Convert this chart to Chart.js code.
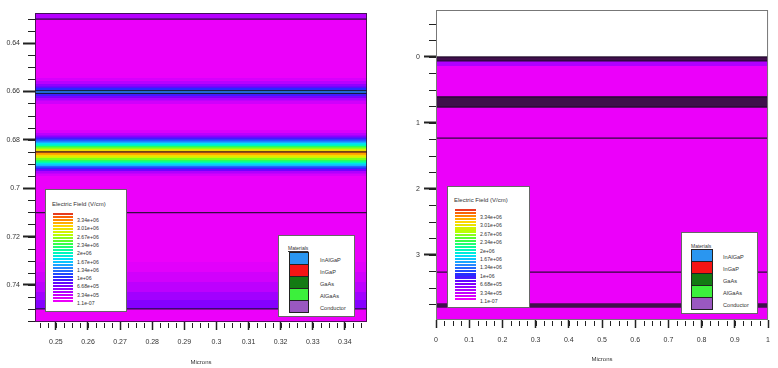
<!DOCTYPE html>
<html>
<head>
<meta charset="utf-8">
<script src="https://cdn.jsdelivr.net/npm/chart.js@4.4.1/dist/chart.umd.min.js"></script>
<style>
body{margin:0;background:#fff;width:778px;height:368px;overflow:hidden;position:relative;font-family:"Liberation Sans",Arial,sans-serif;}
canvas{position:absolute;top:0}
#left{left:0}
#right{left:389px}
.box{position:absolute;background:#fff;border:1px solid #666;box-sizing:border-box;color:#333}
.box div{position:absolute;white-space:nowrap}
.ttl{font-size:6px;line-height:6px}
.lab{font-size:5.2px;line-height:6px}
.mlab{font-size:5.6px;line-height:6px}
.mttl{font-size:5px;line-height:5px;text-decoration:underline}
.sw{box-sizing:border-box;border:1px solid #222}
</style>
</head>
<body>
<canvas id="left" width="389" height="368"></canvas>
<canvas id="right" width="389" height="368"></canvas>
<div class="box" id="fieldL"></div>
<div class="box" id="matL"></div>
<div class="box" id="fieldR"></div>
<div class="box" id="matR"></div>
<script>
// legend text
const fieldLabels = ["3.34e+06","3.01e+06","2.67e+06","2.34e+06","2e+06","1.67e+06","1.34e+06","1e+06","6.68e+05","3.34e+05","1.1e-07"];
const materialNames = ["InAlGaP","InGaP","GaAs","AlGaAs","Conductor"];
const materialColors = ["#2a96f0","#f41414","#137a13","#3cf03c","#9a58c0"];

// axes
const leftXRange = [0.2435, 0.3469];
const leftYRange = [0.6276, 0.7553];
const leftXTicks = [0.25,0.26,0.27,0.28,0.29,0.3,0.31,0.32,0.33,0.34];
const leftYTicks = [0.64,0.66,0.68,0.7,0.72,0.74];
const rightXRange = [0, 1];
const rightYRange = [-0.71, 3.985];
const rightXTicks = [0,0.1,0.2,0.3,0.4,0.5,0.6,0.7,0.8,0.9,1];
const rightYTicks = [0,1,2,3];

// left structure: band start depth (microns) and electric field in it (V/cm)
const leftBandTop = [0.6276,0.6301,0.6545,0.6557,0.6569,0.6580,0.6586,0.6594,0.6607,0.6611,0.6619,0.6627,0.6638,0.6652,
  0.6760,0.6772,0.6782,0.6791,0.6799,0.6807,0.6813,0.6819,0.6826,0.6832,0.6838,0.6844,0.6848,0.6852,0.6856,0.6863,
  0.6869,0.6875,0.6883,0.6890,0.6896,0.6902,0.6908,0.6914,0.6921,0.6929,0.6939,0.6950,0.7305,0.7346,0.7388,0.7429,0.7462,0.7499];
const leftBandField = [3.2e5,0,1.2e5,3.0e5,5.0e5,7.5e5,9.5e5,1.3e6,1.05e6,8.5e5,6.0e5,3.8e5,1.6e5,0,
  1.0e5,3.0e5,5.5e5,8.5e5,1.15e6,1.45e6,1.7e6,1.95e6,2.25e6,2.55e6,2.8e6,3.05e6,3.3e6,3.3e6,3.15e6,2.95e6,
  2.75e6,2.5e6,2.25e6,2.0e6,1.75e6,1.5e6,1.2e6,9.5e5,6.5e5,3.5e5,1.2e5,0,6e4,1.6e5,2.8e5,4.2e5,5.6e5,0];
const leftBoundaries = [0.6301,0.6597,0.6608,0.6850,0.7101,0.7499];

// right structure
const rightBandTop = [0, 0.06, 0.14];
const rightBandField = [3.5e5, 3.5e5, 0];
const rightMeshFrom = [0, 0.605, 3.73];
const rightMeshTo = [0.06, 0.76, 3.80];
const rightBoundaries = [0, 0.06, 0.605, 0.76, 1.23, 3.26];

// colour map of the field legend
const fieldLevels = [0,3.34e5,6.68e5,1e6,1.34e6,1.67e6,2e6,2.34e6,2.67e6,3.01e6,3.34e6,3.5e6];
const levelRGB = [[236,0,250],[180,0,255],[110,0,255],[30,50,255],[40,140,255],[0,220,255],[0,255,170],[60,255,60],[190,255,0],[255,215,0],[255,110,0],[230,60,30]];

function fieldColor(f) {
  let i = 0;
  while (i < fieldLevels.length-2 && f > fieldLevels[i+1]) i++;
  let t = (f-fieldLevels[i])/(fieldLevels[i+1]-fieldLevels[i]);
  t = Math.max(0, Math.min(1, t));
  const a = levelRGB[i], b = levelRGB[i+1];
  return `rgb(${a.map((v,k)=>Math.round(v+(b[k]-v)*t)).join(",")})`;
}

function hline(xr, y, extra) {
  return Object.assign({data:[{x:xr[0],y},{x:xr[1],y}], pointRadius:0, borderColor:"rgba(0,0,0,0)", borderWidth:0, fill:false}, extra);
}

function bandSets(xr, yr, tops, fields) {
  return tops.map((t,k)=>hline(xr, t, {backgroundColor:fieldColor(fields[k]), fill:{value:yr[1]}, order:1000-k}));
}

const ticksPlugin = {
  id: "minorTicks",
  afterDraw(chart, args, o) {
    const {ctx, chartArea:a, scales:{x, y}} = chart;
    ctx.save();
    ctx.strokeStyle = "#222";
    ctx.lineWidth = 1;
    ctx.beginPath();
    for (let i=0; ; i++) {
      const v = o.xMinor[0] + i*o.xMinor[1];
      if (v > x.max) break;
      const px = Math.round(x.getPixelForValue(v)) + 0.5;
      ctx.moveTo(px, a.bottom+1); ctx.lineTo(px, a.bottom+6);
    }
    for (let i=0; ; i++) {
      const v = o.yMinor[0] + i*o.yMinor[1];
      if (v > y.max) break;
      const py = Math.round(y.getPixelForValue(v)) + 0.5;
      ctx.moveTo(a.left-7, py); ctx.lineTo(a.left, py);
    }
    ctx.stroke();
    ctx.strokeStyle = o.frame;
    ctx.strokeRect(a.left+0.5, a.top+0.5, a.width-1, a.height-1);
    ctx.restore();
  }
};

function makeChart(id, xr, yr, xt, yt, datasets, lay) {
  return new Chart(document.getElementById(id), {
    type: "line",
    data: {datasets},
    plugins: [ticksPlugin],
    options: {
      responsive:false, animation:false,
      layout:{padding:{top:lay.top, right:lay.right, left:0, bottom:0}},
      plugins:{legend:{display:false}, tooltip:{enabled:false},
        minorTicks:{xMinor:lay.xMinor, yMinor:lay.yMinor, frame:lay.frame}},
      scales:{
        x:{type:"linear", min:xr[0], max:xr[1],
          afterBuildTicks:s=>{s.ticks = xt.map(v=>({value:v}));},
          afterFit:s=>{s.height = lay.xh;},
          grid:{drawOnChartArea:false, tickLength:8, tickWidth:1.5, tickColor:"#222"},
          border:{display:false},
          ticks:{callback:v=>String(v), padding:8, maxRotation:0, autoSkip:false, color:"#333", font:{size:7, family:"Liberation Sans"}},
          title:{display:true, text:"Microns", color:"#333", font:{size:6, family:"Liberation Sans"}, padding:{top:0, bottom:lay.tb}}},
        y:{type:"linear", reverse:true, min:yr[0], max:yr[1],
          afterBuildTicks:s=>{s.ticks = yt.map(v=>({value:v}));},
          afterFit:s=>{s.width = lay.yw;},
          grid:{drawOnChartArea:false, tickLength:12, tickWidth:2, tickColor:"#222"},
          border:{display:false},
          ticks:{callback:v=>String(v), padding:lay.yp, autoSkip:false, color:"#333", font:{size:7, family:"Liberation Sans"}}}
      }
    }
  });
}

// left panel
const leftSets = bandSets(leftXRange, leftYRange, leftBandTop, leftBandField)
  .concat(leftBoundaries.map(b=>hline(leftXRange, b, {borderColor:"rgba(20,15,35,0.85)", borderWidth:1.2, order:0})));
makeChart("left", leftXRange, leftYRange, leftXTicks, leftYTicks, leftSets,
  {top:13, right:22, xh:46, yw:35, tb:2.4, yp:3, xMinor:[0.245,0.0025], yMinor:[0.63,0.005], frame:"rgba(40,20,50,0.8)"});

// right panel
const rightSets = bandSets(rightXRange, rightYRange, rightBandTop, rightBandField)
  .concat(rightMeshTo.map((t,k)=>hline(rightXRange, t, {backgroundColor:"#40104c", fill:{value:rightMeshFrom[k]}, order:50})))
  .concat(rightBoundaries.map(b=>hline(rightXRange, b, {borderColor:"rgba(30,8,40,0.9)", borderWidth:1.2, order:0})));
makeChart("right", rightXRange, rightYRange, rightXTicks, rightYTicks, rightSets,
  {top:10, right:9, xh:48, yw:47, tb:5.4, yp:4, xMinor:[0,0.025], yMinor:[-0.5,0.25], frame:"#777"});

// legends
function fieldLegend(id, o) {
  const el = document.getElementById(id);
  el.style.cssText = `left:${o.left}px;top:${o.top}px;width:${o.w}px;height:${o.h}px`;
  let html = `<div class="ttl" style="left:${o.tx}px;top:${o.ty-3}px">Electric Field (V/cm)</div>`;
  const n = 30;
  for (let i=0; i<n; i++) {
    const f = 3.5e6*(n-1-i)/(n-1);
    html += `<div style="left:${o.bx}px;top:${o.by+i*o.bh/n}px;width:${o.bw}px;height:${o.bh/n-0.9}px;background:${fieldColor(f)}"></div>`;
  }
  fieldLabels.forEach((t,i)=>{ html += `<div class="lab" style="left:${o.lx}px;top:${o.ly+i*o.ls-3}px">${t}</div>`; });
  el.innerHTML = html;
}
function materialLegend(id, o) {
  const el = document.getElementById(id);
  el.style.cssText = `left:${o.left}px;top:${o.top}px;width:${o.w}px;height:${o.h}px`;
  let html = `<div class="mttl" style="left:${o.tx}px;top:${o.ty-2.5}px">Materials</div>`;
  materialNames.forEach((m,i)=>{
    html += `<div class="sw" style="left:${o.sx}px;top:${o.sy+i*12}px;width:${o.sw}px;height:13px;background:${materialColors[i]}"></div>`;
    html += `<div class="mlab" style="left:${o.lx}px;top:${o.ly+i*12-3}px">${m}</div>`;
  });
  el.innerHTML = html;
}
fieldLegend("fieldL", {left:45, top:189, w:82, h:123, tx:6, ty:14, bx:7, by:23, bw:20, bh:90, lx:31, ly:30, ls:8.3});
fieldLegend("fieldR", {left:447, top:186, w:83, h:122, tx:6, ty:13, bx:7, by:22, bw:21, bh:92, lx:32, ly:30, ls:8.4});
materialLegend("matL", {left:278, top:235, w:77, h:82, tx:9, ty:12, sx:10, sy:16, sw:20, lx:41, ly:24});
materialLegend("matR", {left:681, top:232, w:77, h:82, tx:9, ty:13, sx:9, sy:16, sw:22, lx:41, ly:24});
</script>
</body>
</html>
